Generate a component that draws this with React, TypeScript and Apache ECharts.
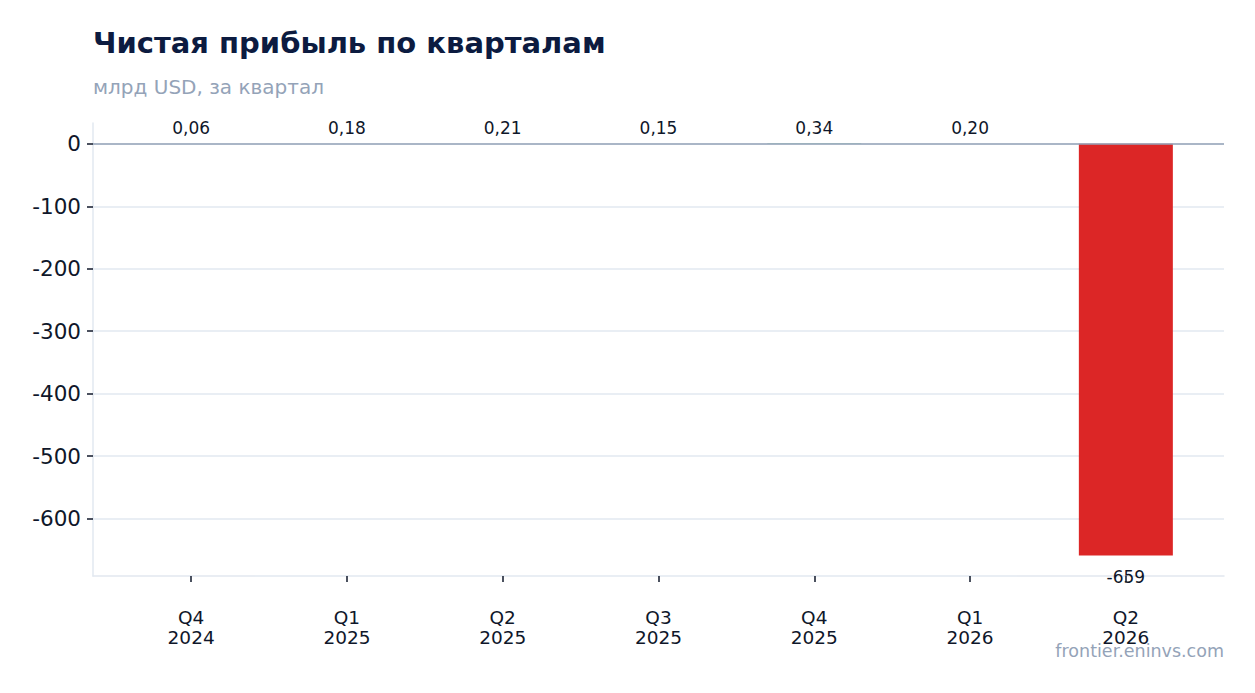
import React, { useEffect, useRef } from 'react';
import * as echarts from 'echarts';

// квартальная чистая прибыль, млрд USD
const quarters = ['Q4\n2024', 'Q1\n2025', 'Q2\n2025', 'Q3\n2025', 'Q4\n2025', 'Q1\n2026', 'Q2\n2026'];
const netIncome = [0.06, 0.18, 0.21, 0.15, 0.34, 0.2, -659];
const yTicks = [0, -100, -200, -300, -400, -500, -600];
const xTicks = [0, 1, 2, 3, 4, 5, 6];

const FONT = '"DejaVu Sans", sans-serif';
const DARK = '#0f172a';
const MUTED = '#94a3b8';
const GRID = '#e2e8f0';

function fmt(v: number) {
  if (Math.abs(v) >= 100) return String(Math.round(v));
  return v.toFixed(2).replace('.', ',');
}

export default function App() {
  const chartRef = useRef<HTMLDivElement>(null);

  useEffect(() => {
    if (!chartRef.current) return;
    const chart = echarts.init(chartRef.current, null, { renderer: 'svg' });

    const option = {
      animation: false,
      backgroundColor: '#ffffff',
      textStyle: { fontFamily: FONT },
      grid: { left: 93, right: 31, top: 123, bottom: 117 },
      graphic: [
        {
          type: 'text',
          left: 93,
          top: 28,
          style: { text: 'Чистая прибыль по кварталам', fill: '#0c1b40', font: `bold 29px ${FONT}` }
        },
        {
          type: 'text',
          left: 93,
          top: 77,
          style: { text: 'млрд USD, за квартал', fill: MUTED, font: `20px ${FONT}` }
        },
        {
          type: 'text',
          right: 31,
          top: 642,
          style: { text: 'frontier.eninvs.com', fill: MUTED, font: `17.5px ${FONT}` }
        }
      ],
      xAxis: {
        type: 'value',
        min: -0.63,
        max: 6.63,
        splitLine: { show: false },
        axisLine: { show: true, onZero: false, lineStyle: { color: GRID, width: 1.5 } },
        axisTick: { show: true, customValues: xTicks, length: 6, lineStyle: { color: DARK, width: 1.5 } },
        axisLabel: {
          customValues: xTicks,
          margin: 31,
          fontSize: 18.5,
          lineHeight: 20,
          color: DARK,
          fontFamily: FONT,
          formatter: (v: number) => quarters[Math.round(v)] ?? ''
        }
      },
      yAxis: {
        type: 'value',
        min: -692,
        max: 33.3,
        axisLine: { show: true, onZero: false, lineStyle: { color: GRID, width: 1.5 } },
        axisTick: { show: true, customValues: yTicks, length: 6, lineStyle: { color: DARK, width: 1.5 } },
        splitLine: { show: true, lineStyle: { color: GRID, width: 1.5 } },
        axisLabel: {
          customValues: yTicks,
          margin: 12,
          fontSize: 21.5,
          color: DARK,
          fontFamily: FONT
        }
      },
      series: [
        {
          type: 'bar',
          barWidth: 94,
          data: netIncome.map((v, i) => ({
            value: [i, v],
            itemStyle: { color: v >= 0 ? '#16a34a' : '#dc2626' },
            label: {
              show: true,
              position: v >= 0 ? 'top' : 'bottom',
              distance: v >= 0 ? 7 : 13,
              formatter: fmt(v),
              fontSize: 17,
              color: DARK,
              fontFamily: FONT
            }
          })),
          markLine: {
            silent: true,
            symbol: ['none', 'none'],
            label: { show: false },
            lineStyle: { color: MUTED, width: 1.5, type: 'solid' },
            data: [{ yAxis: 0 }]
          }
        }
      ]
    };

    chart.setOption(option);
    return () => chart.dispose();
  }, []);

  return (
    <div
      ref={chartRef}
      style={{ position: 'absolute', left: 0, top: 0, width: 1255, height: 693 }}
    />
  );
}
